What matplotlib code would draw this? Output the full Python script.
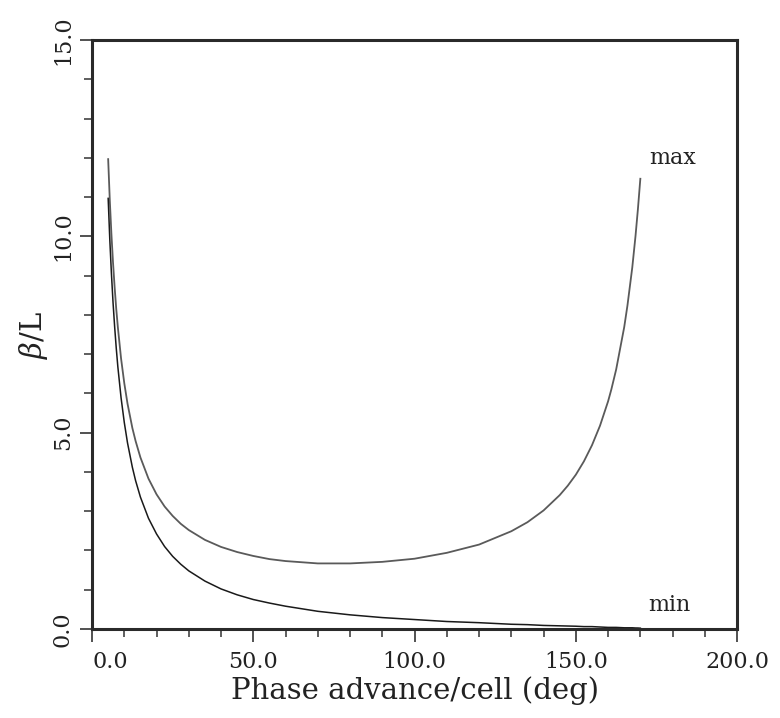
import matplotlib
matplotlib.use("Agg")
import matplotlib.pyplot as plt
from matplotlib.ticker import MultipleLocator

# phase advance per cell (deg) and beta/L
phase = [5, 5.5, 6, 6.5, 7, 7.5, 8, 9, 10, 11, 12.5, 13.5, 15, 17.5, 20, 22.5,
         25, 27.5, 30, 35, 40, 45, 50, 55, 60, 70, 80, 90, 100, 110, 120, 130,
         135, 140, 145, 147.5, 150, 152.5, 155, 157.5, 160, 161, 162.5, 165,
         166, 167.5, 168.5, 169.25, 170]
beta_max = [11.97, 10.93, 10.07, 9.34, 8.71, 8.16, 7.69, 6.89, 6.26, 5.74,
            5.12, 4.79, 4.37, 3.83, 3.43, 3.12, 2.88, 2.68, 2.52, 2.27, 2.09,
            1.96, 1.86, 1.78, 1.73, 1.67, 1.67, 1.71, 1.79, 1.94, 2.15, 2.49,
            2.72, 3.02, 3.41, 3.65, 3.93, 4.27, 4.68, 5.18, 5.80, 6.10, 6.61,
            7.69, 8.24, 9.21, 10.01, 10.70, 11.47]
beta_min = [10.97, 9.93, 9.07, 8.33, 7.71, 7.16, 6.68, 5.89, 5.26, 4.74,
            4.12, 3.78, 3.36, 2.82, 2.42, 2.10, 1.85, 1.65, 1.48, 1.22, 1.02,
            0.87, 0.75, 0.66, 0.58, 0.45, 0.36, 0.29, 0.24, 0.19, 0.16, 0.12,
            0.11, 0.09, 0.08, 0.075, 0.07, 0.06, 0.06, 0.05, 0.04, 0.04, 0.04,
            0.03, 0.03, 0.03, 0.025, 0.024, 0.02]

plt.rcParams['font.family'] = ['DejaVu Serif']
plt.rcParams['mathtext.fontset'] = 'dejavuserif'

fig = plt.figure(figsize=(7.8, 7.18), dpi=100)
ax = fig.add_axes([0.118, 0.124, 0.827, 0.820])

ax.plot(phase, beta_max, color='#5a5a5a', lw=1.3)
ax.plot(phase, beta_min, color='#1a1a1a', lw=1.1)

ax.text(180, 12.0, 'max', fontsize=16, ha='center', va='center', color='#222222')
ax.text(179, 0.6, 'min', fontsize=16, ha='center', va='center', color='#222222')

ax.set_xlim(0, 200)
ax.set_ylim(0, 15)
ax.set_xticks([0, 50, 100, 150, 200])
ax.set_xticklabels(['0.0', '50.0', '100.0', '150.0', '200.0'])
ax.xaxis.set_minor_locator(MultipleLocator(10))
ax.set_yticks([0, 5, 10, 15])
ax.set_yticklabels(['0.0', '5.0', '10.0', '15.0'], rotation=90, va='center')
ax.yaxis.set_minor_locator(MultipleLocator(1))

ax.tick_params(axis='both', which='major', direction='out', length=9, width=1.2,
               labelsize=16, colors='#333333', labelcolor='#222222')
ax.tick_params(axis='both', which='minor', direction='out', length=6, width=1.1,
               colors='#333333')
ax.tick_params(axis='x', which='major', pad=7)
ax.tick_params(axis='y', which='major', pad=4)
for lab in ax.get_xticklabels():
    if lab.get_text() == '0.0':
        lab.set_horizontalalignment('left')

for s in ax.spines.values():
    s.set_linewidth(2.2)
    s.set_color('#2a2a2a')

ax.set_xlabel('Phase advance/cell (deg)', fontsize=21, color='#222222', labelpad=2)
ax.set_ylabel(r'$\beta$/L', fontsize=21, color='#222222')
ax.yaxis.set_label_coords(-0.065, 0.5)

fig.savefig('out.png', dpi=100)
